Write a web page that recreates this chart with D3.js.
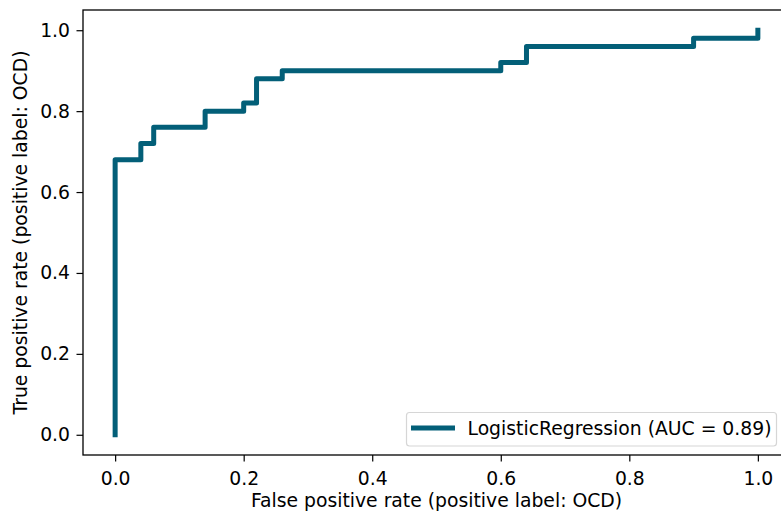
<!DOCTYPE html>
<html>
<head>
<meta charset="utf-8">
<script src="https://cdn.jsdelivr.net/npm/d3@7"></script>
<style>
  body { margin: 0; background: #fff; }
  text { font-family: "DejaVu Sans", sans-serif; }
</style>
</head>
<body>
<svg id="chart" width="781" height="517"></svg>
<script>
    // ROC curve points (false positive rate, true positive rate)
    const fpr = [0, 0, 0.04, 0.04, 0.06, 0.06, 0.14, 0.14, 0.2, 0.2, 0.22, 0.22, 0.26, 0.26, 0.6, 0.6, 0.64, 0.64, 0.9, 0.9, 1.0, 1.0];
    const tpr = [0, 0.68, 0.68, 0.72, 0.72, 0.76, 0.76, 0.8, 0.8, 0.82, 0.82, 0.88, 0.88, 0.9, 0.9, 0.92, 0.92, 0.96, 0.96, 0.98, 0.98, 1.0];
    const xTicks = [0, 0.2, 0.4, 0.6, 0.8, 1.0];
    const yTicks = [0, 0.2, 0.4, 0.6, 0.8, 1.0];
    const legendLabel = "LogisticRegression (AUC = 0.89)";

    const points = fpr.map((x, i) => ({ x: x, y: tpr[i] }));

    const dimensions = {
        left: 83,
        right: 790,
        top: 10,
        bottom: 455,
    };
    const lineColor = "#035f78";
    const fontSize = "18.8px";

    const xScale = d3.scaleLinear()
        .domain([-0.05, 1.05])
        .range([dimensions.left, dimensions.right]);

    const yScale = d3.scaleLinear()
        .domain([-0.05, 1.05])
        .range([dimensions.bottom, dimensions.top]);

    const svg = d3.select("#chart");

    // Axes
    const xAxis = svg.append("g")
        .attr("transform", `translate(0,${dimensions.bottom})`)
        .call(d3.axisBottom(xScale).tickValues(xTicks).tickFormat(d3.format(".1f")).tickSize(6.5).tickPadding(6.5));

    const yAxis = svg.append("g")
        .attr("transform", `translate(${dimensions.left},0)`)
        .call(d3.axisLeft(yScale).tickValues(yTicks).tickFormat(d3.format(".1f")).tickSize(6.5).tickPadding(6.5));

    [xAxis, yAxis].forEach(ax => {
        ax.select(".domain").remove();
        ax.selectAll("line").attr("stroke", "#000").attr("stroke-width", 1.2);
        ax.selectAll("text")
            .attr("fill", "#000")
            .style("font-size", fontSize)
            .style("font-family", "DejaVu Sans, sans-serif");
    });
    xAxis.selectAll("text").attr("y", 30).attr("dy", 0);

    // Frame
    svg.append("rect")
        .attr("x", dimensions.left)
        .attr("y", dimensions.top)
        .attr("width", dimensions.right - dimensions.left)
        .attr("height", dimensions.bottom - dimensions.top)
        .attr("fill", "none")
        .attr("stroke", "#000")
        .attr("stroke-width", 1.3);

    // ROC line
    const line = d3.line()
        .x(d => xScale(d.x))
        .y(d => yScale(d.y));

    svg.append("path")
        .datum(points)
        .attr("d", line)
        .attr("fill", "none")
        .attr("stroke", lineColor)
        .attr("stroke-width", 5)
        .attr("stroke-linejoin", "round")
        .attr("stroke-linecap", "square");

    // Axis labels
    svg.append("text")
        .attr("x", (dimensions.left + dimensions.right) / 2)
        .attr("y", 507)
        .attr("text-anchor", "middle")
        .style("font-size", fontSize)
        .text("False positive rate (positive label: OCD)");

    svg.append("text")
        .attr("transform", `translate(27,${(dimensions.top + dimensions.bottom) / 2}) rotate(-90)`)
        .attr("text-anchor", "middle")
        .style("font-size", fontSize)
        .text("True positive rate (positive label: OCD)");

    // Legend
    const legend = svg.append("g");
    legend.append("rect")
        .attr("x", 406.5)
        .attr("y", 412.5)
        .attr("width", 370)
        .attr("height", 33.5)
        .attr("rx", 3)
        .attr("fill", "#fff")
        .attr("fill-opacity", 0.8)
        .attr("stroke", "#d6d6d6")
        .attr("stroke-width", 1.2);
    legend.append("line")
        .attr("x1", 411)
        .attr("x2", 455)
        .attr("y1", 428)
        .attr("y2", 428)
        .attr("stroke", lineColor)
        .attr("stroke-width", 5);
    legend.append("text")
        .attr("x", 467.5)
        .attr("y", 435)
        .style("font-size", fontSize)
        .text(legendLabel);
</script>
</body>
</html>
